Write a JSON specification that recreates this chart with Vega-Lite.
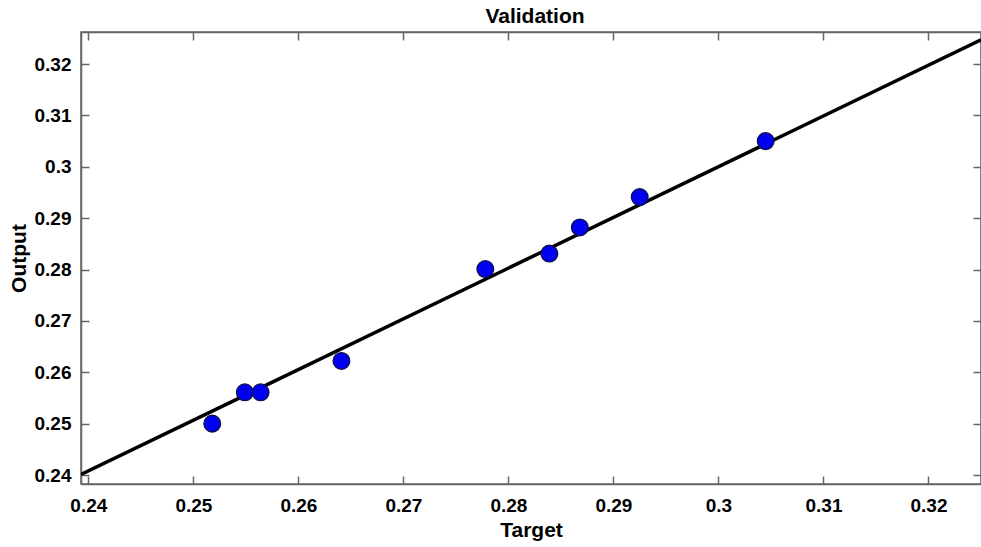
{
  "$schema": "https://vega.github.io/schema/vega-lite/v6.json",
  "width": 900,
  "height": 452,
  "autosize": "none",
  "padding": {"left": 81, "top": 32, "right": 0, "bottom": 63},
  "background": "white",
  "config": {
    "font": "Liberation Sans",
    "view": {"stroke": "#666666", "strokeWidth": 1.5},
    "axis": {"grid": false, "domainColor": "#666666", "tickColor": "#666666", "domainWidth": 1.5, "tickWidth": 1.5}
  },
  "title": {"text": "Validation", "fontSize": 21, "fontWeight": "bold", "font": "Liberation Sans", "color": "black", "offset": 4, "dx": 4},
  "datasets": {
    "fit": [{"target": 0.2393, "output": 0.2401}, {"target": 0.325, "output": 0.3247}],
    "pts": [
      {"target": 0.2518, "output": 0.2500},
      {"target": 0.2549, "output": 0.2561},
      {"target": 0.2564, "output": 0.2561},
      {"target": 0.2641, "output": 0.2622},
      {"target": 0.2778, "output": 0.2801},
      {"target": 0.2839, "output": 0.2831},
      {"target": 0.2868, "output": 0.2882},
      {"target": 0.2925, "output": 0.2941},
      {"target": 0.3045, "output": 0.3050}
    ]
  },
  "resolve": {"axis": {"x": "independent", "y": "independent"}},
  "layer": [
    {
      "data": {"name": "fit"},
      "mark": {"type": "line", "color": "black", "strokeWidth": 3.5, "clip": true},
      "encoding": {
        "x": {"field": "target", "type": "quantitative", "scale": {"domain": [0.2393, 0.325], "nice": false, "zero": false},
          "axis": {"orient": "top", "labels": false, "title": null, "values": [0.24, 0.25, 0.26, 0.27, 0.28, 0.29, 0.3, 0.31, 0.32], "tickSize": -8}},
        "y": {"field": "output", "type": "quantitative", "scale": {"domain": [0.23825, 0.32624], "nice": false, "zero": false},
          "axis": {"orient": "right", "labels": false, "title": null, "values": [0.24, 0.25, 0.26, 0.27, 0.28, 0.29, 0.3, 0.31, 0.32], "tickSize": -8}}
      }
    },
    {
      "data": {"name": "pts"},
      "mark": {"type": "circle", "size": 280, "fill": "#0000F0", "fillOpacity": 1, "stroke": "#10104a", "strokeWidth": 1.3},
      "encoding": {
        "x": {"field": "target", "type": "quantitative",
          "axis": {"orient": "bottom", "title": "Target", "values": [0.24, 0.25, 0.26, 0.27, 0.28, 0.29, 0.3, 0.31, 0.32], "format": ".2~f", "tickSize": -8, "labelPadding": 20,
            "labelFont": "Liberation Sans", "labelFontSize": 19, "labelFontWeight": "bold", "labelColor": "black",
            "titleFont": "Liberation Sans", "titleFontSize": 21, "titleFontWeight": "bold", "titleColor": "black", "titlePadding": 4}},
        "y": {"field": "output", "type": "quantitative",
          "axis": {"orient": "left", "title": "Output", "values": [0.24, 0.25, 0.26, 0.27, 0.28, 0.29, 0.3, 0.31, 0.32], "format": ".2~f", "tickSize": -8, "labelPadding": 18,
            "labelFont": "Liberation Sans", "labelFontSize": 19, "labelFontWeight": "bold", "labelColor": "black",
            "titleFont": "Liberation Sans", "titleFontSize": 21, "titleFontWeight": "bold", "titleColor": "black", "titlePadding": 5}}
      }
    }
  ]
}
